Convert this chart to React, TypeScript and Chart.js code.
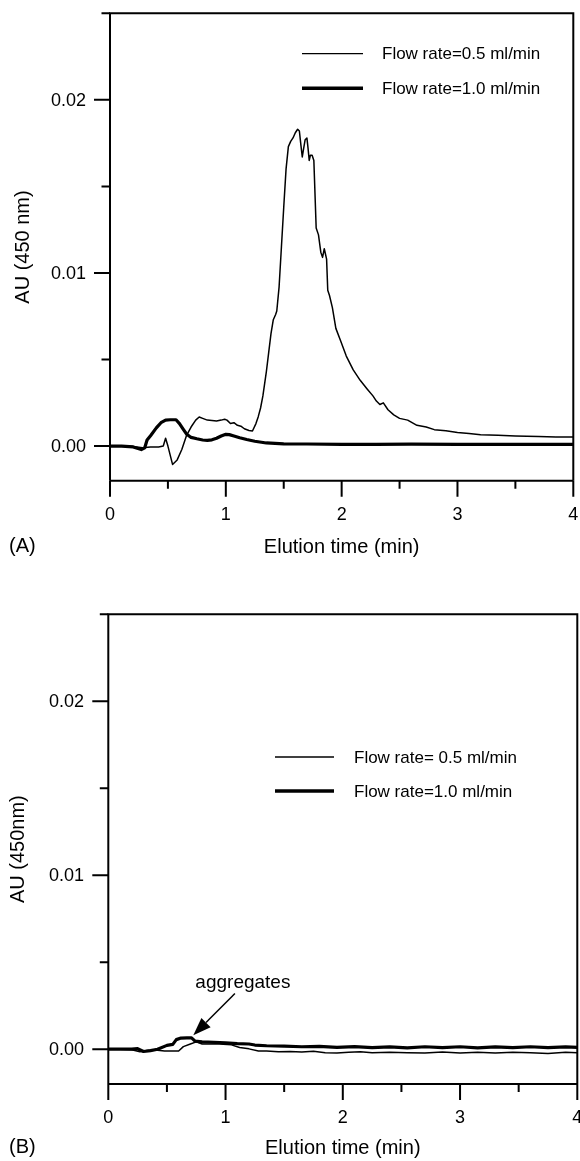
import React, { useEffect, useRef } from 'react';
import { Chart, registerables } from 'chart.js';
Chart.register(...registerables);

// ---------- axis ticks ----------
const xMajorTicks = [0, 1, 2, 3, 4];
const xTickLabels = ['0', '1', '2', '3', '4'];
const xMinorTicks = [0.5, 1.5, 2.5, 3.5];
const yMajorTicks = [0, 0.01, 0.02];
const yTickLabels = ['0.00', '0.01', '0.02'];
const yMinorTicks = [0.005, 0.015, 0.025];

const xTitle = 'Elution time (min)';
const yTitleA = 'AU (450 nm)';
const yTitleB = 'AU (450nm)';
const legendA = ['Flow rate=0.5 ml/min', 'Flow rate=1.0 ml/min'];
const legendB = ['Flow rate= 0.5 ml/min', 'Flow rate=1.0 ml/min'];
const annotationText = 'aggregates';
const arrowTip = [0.725, 0.0008];
const arrowTail = [1.08, 0.0032];
const annotationPos = [1.148, 0.0038];

// ---------- panel A, 0.5 ml/min ----------
const timeA05 = [0, 0.1, 0.2, 0.28, 0.35, 0.42, 0.46, 0.48, 0.5, 0.54, 0.58, 0.62, 0.66, 0.7, 0.74, 0.77, 0.8, 0.84, 0.88, 0.92, 0.96, 0.99, 1.01, 1.04, 1.07, 1.1, 1.13, 1.16, 1.2, 1.23, 1.26, 1.28, 1.3, 1.32, 1.35, 1.37, 1.39, 1.41, 1.43, 1.44, 1.46, 1.48, 1.5, 1.52, 1.54, 1.56, 1.58, 1.6, 1.62, 1.635, 1.648, 1.66, 1.672, 1.685, 1.7, 1.71, 1.72, 1.73, 1.745, 1.76, 1.78, 1.8, 1.82, 1.835, 1.85, 1.87, 1.88, 1.895, 1.92, 1.95, 1.99, 2.04, 2.1, 2.16, 2.22, 2.27, 2.3, 2.33, 2.36, 2.4, 2.45, 2.5, 2.57, 2.65, 2.73, 2.8, 2.9, 3.0, 3.1, 3.2, 3.35, 3.5, 3.7, 3.85, 4.0];
const auA05 = [0, 0, -0.00003, -0.0001, -0.00005, -0.00005, 0, 0.00045, 0, -0.00106, -0.0008, -0.0002, 0.0006, 0.0011, 0.0015, 0.00168, 0.0016, 0.0015, 0.00148, 0.00145, 0.0015, 0.00155, 0.0015, 0.0013, 0.00135, 0.0012, 0.00115, 0.001, 0.0009, 0.00087, 0.0013, 0.0017, 0.0022, 0.0029, 0.0043, 0.0054, 0.0065, 0.0073, 0.0076, 0.0078, 0.0092, 0.0115, 0.0138, 0.016, 0.0173, 0.0176, 0.0178, 0.0181, 0.0183, 0.0182, 0.0174, 0.0167, 0.0172, 0.0177, 0.0178, 0.0172, 0.0165, 0.0168, 0.0168, 0.0165, 0.0126, 0.0122, 0.0112, 0.0109, 0.0114, 0.0108, 0.009, 0.0087, 0.008, 0.0068, 0.0061, 0.0052, 0.0044, 0.0038, 0.0033, 0.0029, 0.0026, 0.0024, 0.0025, 0.0021, 0.0018, 0.0016, 0.0015, 0.0012, 0.0011, 0.00095, 0.00088, 0.00078, 0.00072, 0.00066, 0.00062, 0.00058, 0.00055, 0.00052, 0.00052];

// ---------- panel A, 1.0 ml/min ----------
const timeA10 = [0, 0.1, 0.2, 0.27, 0.3, 0.32, 0.35, 0.4, 0.44, 0.48, 0.52, 0.57, 0.6, 0.63, 0.66, 0.7, 0.75, 0.8, 0.84, 0.88, 0.92, 0.96, 1.0, 1.03, 1.07, 1.12, 1.18, 1.25, 1.35, 1.5, 1.7, 2.0, 2.3, 2.6, 3.0, 3.5, 4.0];
const auA10 = [0, 0, -0.00005, -0.0002, -0.0001, 0.00035, 0.0006, 0.00105, 0.00135, 0.0015, 0.00152, 0.00152, 0.0013, 0.001, 0.0007, 0.0005, 0.00042, 0.00035, 0.00033, 0.00036, 0.00045, 0.00058, 0.00068, 0.00066, 0.00058, 0.00048, 0.00038, 0.00028, 0.00018, 0.00013, 0.00012, 0.0001, 0.0001, 0.00011, 0.0001, 0.0001, 0.0001];

// ---------- panel B, 0.5 ml/min ----------
const timeB05 = [0, 0.1, 0.2, 0.27, 0.33, 0.4, 0.48, 0.55, 0.6, 0.64, 0.7, 0.75, 0.8, 0.86, 0.92, 0.98, 1.05, 1.12, 1.2, 1.28, 1.35, 1.45, 1.55, 1.65, 1.75, 1.85, 1.95, 2.05, 2.15, 2.25, 2.4, 2.55, 2.7, 2.85, 3.0, 3.15, 3.3, 3.45, 3.6, 3.75, 3.9, 4.0];
const auB05 = [0, 0, -0.00003, -0.00015, -0.00008, -0.00005, -0.0001, -0.0001, -0.0001, 0.00015, 0.0003, 0.00042, 0.0003, 0.0003, 0.00032, 0.00028, 0.00025, 0.0001, 0.00002, -0.0001, -0.0001, -0.00015, -0.00013, -0.00016, -0.00012, -0.0002, -0.00022, -0.00017, -0.00015, -0.0002, -0.00018, -0.0002, -0.00022, -0.00016, -0.00022, -0.00018, -0.00022, -0.00017, -0.0002, -0.00024, -0.00018, -0.0002];

// ---------- panel B, 1.0 ml/min ----------
const timeB10 = [0, 0.1, 0.2, 0.25, 0.3, 0.36, 0.42, 0.5, 0.55, 0.58, 0.62, 0.67, 0.71, 0.74, 0.8, 0.9, 1.0, 1.1, 1.2, 1.25, 1.35, 1.5, 1.65, 1.8, 1.95, 2.1, 2.25, 2.4, 2.55, 2.7, 2.85, 3.0, 3.15, 3.3, 3.45, 3.6, 3.75, 3.9, 4.0];
const auB10 = [0, 0, 0, 0.00003, -0.00013, -0.00008, 0, 0.00022, 0.00028, 0.00055, 0.00064, 0.00065, 0.00065, 0.00046, 0.00042, 0.0004, 0.00036, 0.00032, 0.0003, 0.00024, 0.0002, 0.00018, 0.00014, 0.00016, 0.0001, 0.00015, 0.00009, 0.00013, 0.00008, 0.00014, 0.00009, 0.00014, 0.00008, 0.00013, 0.00009, 0.00014, 0.00009, 0.00013, 0.0001];

const FONT = '"Liberation Sans", Arial, Helvetica, sans-serif';

type Panel = {
  height: number;
  padding: { left: number; right: number; top: number; bottom: number };
  yLabelRight: number;
  xLabelMid: number;
  xTitleMid: number;
  panelLabel: string;
  panelLabelX: number;
  panelLabelMid: number;
  yTitle: string;
  yTitleX: number;
  legend: string[];
  legendX0: number;
  legendX1: number;
  legendTextX: number;
  legendYs: number[];
  times: number[][];
  values: number[][];
  annotate: boolean;
};

const panels: Panel[] = [
  {
    height: 580,
    padding: { left: 110, right: 6.7, top: 13.3, bottom: 99.3 },
    yLabelRight: 86,
    xLabelMid: 515.5,
    xTitleMid: 547,
    panelLabel: '(A)',
    panelLabelX: 9,
    panelLabelMid: 546,
    yTitle: yTitleA,
    yTitleX: 23,
    legend: legendA,
    legendX0: 302,
    legendX1: 363,
    legendTextX: 382,
    legendYs: [53.6, 88.3],
    times: [timeA05, timeA10],
    values: [auA05, auA10],
    annotate: false,
  },
  {
    height: 581,
    padding: { left: 108.3, right: 2.7, top: 34.3, bottom: 77 },
    yLabelRight: 84,
    xLabelMid: 538,
    xTitleMid: 568,
    panelLabel: '(B)',
    panelLabelX: 9,
    panelLabelMid: 567,
    yTitle: yTitleB,
    yTitleX: 18.5,
    legend: legendB,
    legendX0: 275,
    legendX1: 334,
    legendTextX: 354,
    legendYs: [177, 211],
    times: [timeB05, timeB10],
    values: [auB05, auB10],
    annotate: true,
  },
];

const widths = [1.5, 3.2];

function makePlugin(p: Panel) {
  return {
    id: 'frameAndText',
    afterDraw(chart: any) {
      const ctx: CanvasRenderingContext2D = chart.ctx;
      const xs = chart.scales.x;
      const ys = chart.scales.y;
      const { left, right, top, bottom } = chart.chartArea;
      ctx.save();
      ctx.strokeStyle = '#000';
      ctx.fillStyle = '#000';
      ctx.lineWidth = 2;
      ctx.lineCap = 'butt';
      // frame
      ctx.beginPath();
      ctx.moveTo(left, top);
      ctx.lineTo(right, top);
      ctx.moveTo(right, top - 1);
      ctx.lineTo(right, bottom);
      ctx.moveTo(left, top - 1);
      ctx.lineTo(left, bottom);
      ctx.moveTo(left, bottom);
      ctx.lineTo(right, bottom);
      ctx.stroke();
      // ticks
      ctx.beginPath();
      yMajorTicks.forEach((v) => {
        const y = ys.getPixelForValue(v);
        ctx.moveTo(left - 16, y);
        ctx.lineTo(left, y);
      });
      yMinorTicks.forEach((v) => {
        const y = ys.getPixelForValue(v);
        ctx.moveTo(left - 8.5, y);
        ctx.lineTo(left, y);
      });
      xMajorTicks.forEach((v) => {
        const x = xs.getPixelForValue(v);
        ctx.moveTo(x, bottom);
        ctx.lineTo(x, bottom + 16);
      });
      xMinorTicks.forEach((v) => {
        const x = xs.getPixelForValue(v);
        ctx.moveTo(x, bottom);
        ctx.lineTo(x, bottom + 8);
      });
      ctx.stroke();
      // tick labels
      ctx.font = `18px ${FONT}`;
      ctx.textBaseline = 'middle';
      ctx.textAlign = 'right';
      yMajorTicks.forEach((v, i) => {
        ctx.fillText(yTickLabels[i], p.yLabelRight, ys.getPixelForValue(v) + 1);
      });
      ctx.textAlign = 'center';
      xMajorTicks.forEach((v, i) => {
        ctx.fillText(xTickLabels[i], xs.getPixelForValue(v), p.xLabelMid);
      });
      // titles
      ctx.font = `20px ${FONT}`;
      ctx.fillText(xTitle, (left + right) / 2, p.xTitleMid);
      ctx.textAlign = 'left';
      ctx.fillText(p.panelLabel, p.panelLabelX, p.panelLabelMid);
      ctx.save();
      ctx.translate(p.yTitleX, (top + bottom) / 2);
      ctx.rotate(-Math.PI / 2);
      ctx.textAlign = 'center';
      ctx.fillText(p.yTitle, 0, 0);
      ctx.restore();
      // legend
      ctx.font = `17px ${FONT}`;
      ctx.textAlign = 'left';
      p.legend.forEach((label, i) => {
        ctx.lineWidth = i === 0 ? 1.4 : 3.6;
        ctx.beginPath();
        ctx.moveTo(p.legendX0, p.legendYs[i]);
        ctx.lineTo(p.legendX1, p.legendYs[i]);
        ctx.stroke();
        ctx.fillText(label, p.legendTextX, p.legendYs[i] + 1);
      });
      // annotation
      if (p.annotate) {
        ctx.font = `19px ${FONT}`;
        ctx.textAlign = 'center';
        ctx.fillText(annotationText, xs.getPixelForValue(annotationPos[0]), ys.getPixelForValue(annotationPos[1]));
        const tx = xs.getPixelForValue(arrowTip[0]);
        const ty = ys.getPixelForValue(arrowTip[1]);
        const sx = xs.getPixelForValue(arrowTail[0]);
        const sy = ys.getPixelForValue(arrowTail[1]);
        const ang = Math.atan2(ty - sy, tx - sx);
        const headLen = 18;
        const headHalf = 6.5;
        const bx = tx - headLen * Math.cos(ang);
        const by = ty - headLen * Math.sin(ang);
        ctx.lineWidth = 1.5;
        ctx.beginPath();
        ctx.moveTo(sx, sy);
        ctx.lineTo(bx, by);
        ctx.stroke();
        ctx.beginPath();
        ctx.moveTo(tx, ty);
        ctx.lineTo(bx + headHalf * Math.sin(ang), by - headHalf * Math.cos(ang));
        ctx.lineTo(bx - headHalf * Math.sin(ang), by + headHalf * Math.cos(ang));
        ctx.closePath();
        ctx.fill();
      }
      ctx.restore();
    },
  };
}

function PanelChart({ p }: { p: Panel }) {
  const ref = useRef<HTMLCanvasElement | null>(null);
  useEffect(() => {
    if (!ref.current) return;
    const chart = new Chart(ref.current, {
      type: 'line',
      data: {
        datasets: p.times.map((ts, i) => ({
          label: p.legend[i],
          data: ts.map((t, j) => ({ x: t, y: p.values[i][j] })),
          borderColor: '#000',
          borderWidth: widths[i],
          pointRadius: 0,
          tension: 0,
          fill: false,
          borderJoinStyle: 'round',
        })),
      },
      options: {
        animation: false,
        responsive: false,
        devicePixelRatio: 1,
        layout: { padding: p.padding },
        scales: {
          x: { type: 'linear', min: 0, max: 4, display: false },
          y: { type: 'linear', min: -0.002, max: 0.025, display: false },
        },
        plugins: { legend: { display: false }, tooltip: { enabled: false } },
      },
      plugins: [makePlugin(p)],
    } as any);
    return () => chart.destroy();
  }, [p]);
  return <canvas ref={ref} width={580} height={p.height} style={{ display: 'block' }} />;
}

export default function App() {
  return (
    <div style={{ position: 'absolute', left: 0, top: 0, width: 580, background: '#fff' }}>
      {panels.map((p, i) => (
        <PanelChart key={i} p={p} />
      ))}
    </div>
  );
}
